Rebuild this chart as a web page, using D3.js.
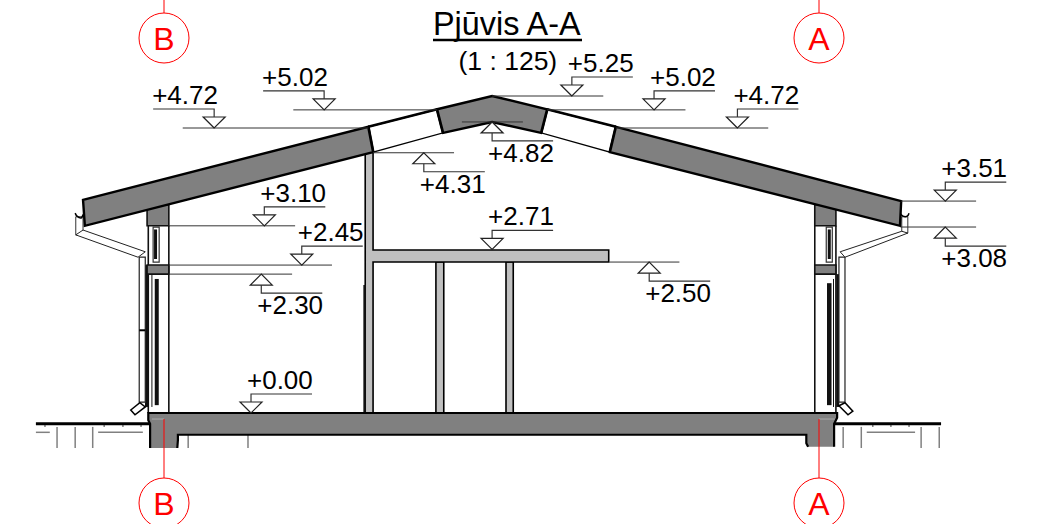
<!DOCTYPE html>
<html>
<head>
<meta charset="utf-8">
<title>Pjūvis A-A</title>
<script src="https://cdn.jsdelivr.net/npm/d3@7"></script>
<style>
  html, body { margin: 0; background: #fff; overflow: hidden; }
  text { font-family: "Liberation Sans", Arial, sans-serif; }
</style>
</head>
<body>
<div id="viz"></div>
<script>
// level marks: label, height (m), mark position (m from axis B), level line extent (m)
var levelLabels = ['+4.72', '+5.02', '+5.25', '+5.02', '+4.72', '+3.51', '+3.08', '+2.50', '+4.31', '+4.82', '+3.10', '+2.45', '+2.30', '+2.71', '+0.00'];
var levelValues = [4.72, 5.02, 5.25, 5.02, 4.72, 3.51, 3.08, 2.50, 4.31, 4.82, 3.10, 2.45, 2.30, 2.71, 0.00];
var levelMarkX = [0.83, 2.65, 6.75, 8.11, 9.49, 12.93, 12.93, 8.03, 4.30, 5.43, 1.66, 2.28, 1.61, 5.43, 1.44];
var levelFrom = [0.31, 2.14, 5.43, 6.34, 7.48, 12.20, 12.19, 7.37, 3.46, 4.93, 0.08, 0.08, 0.08, null, null];
var levelTo = [3.38, 4.52, 7.27, 8.63, 10.00, 13.44, 13.44, 8.53, 4.80, 5.94, 2.17, 2.78, 2.12, null, null];
var levelBelow = [false, false, false, false, false, false, true, true, true, true, false, false, true, false, false];
var levelLeader = ['left', 'left', 'right', 'right', 'right', 'right', 'right', 'right', 'right', 'right', 'right', 'right', 'right', 'right', 'right'];

// section geometry, [x, height] in metres
var roofLeft = [[-1.34, 3.53], [3.38, 4.74], [3.46, 4.32], [-1.31, 3.10]];
var roofMiddle = [[4.52, 5.03], [5.43, 5.25], [6.34, 5.03], [6.24, 4.64], [5.43, 4.82], [4.62, 4.64]];
var roofRight = [[7.48, 4.74], [12.20, 3.51], [12.18, 3.10], [7.38, 4.32]];
var skylights = [
  [[3.38, 4.74], [4.52, 5.03], [4.62, 4.64], [3.46, 4.32]],
  [[7.48, 4.74], [6.34, 5.03], [6.24, 4.64], [7.38, 4.32]]
];
var partition = [[3.33, 4.40], [3.46, 4.40], [3.46, 2.70], [7.36, 2.70], [7.36, 2.50], [3.46, 2.50], [3.46, 0], [3.33, 0]];
var posts = [[4.50, 4.63], [5.66, 5.78]];
var postTop = 2.50;
var wallBlocks = [[-0.28, 0.08, 3.45, 3.10], [10.77, 11.12, 3.45, 3.10], [-0.28, 0.08, 2.45, 2.30], [10.77, 11.12, 2.45, 2.30]];
var slabFill = [[-0.26, 0], [-0.26, -0.12], [-0.23, -0.18], [-0.23, -0.58], [0.22, -0.58], [0.23, -0.45], [0.23, -0.36], [10.63, -0.36], [10.63, -0.50], [10.66, -0.56], [11.09, -0.56], [11.09, -0.18], [11.14, -0.08], [11.14, 0]];
var slabOuter = [[-0.23, -0.58], [-0.23, -0.18], [-0.26, -0.12], [-0.26, 0], [11.14, 0], [11.14, -0.08], [11.09, -0.18], [11.09, -0.56]];
var slabInner = [[0.22, -0.58], [0.23, -0.45], [0.23, -0.36], [10.63, -0.36], [10.63, -0.50], [10.66, -0.56]];

// vertical frame lines: x, top, bottom, line width
var frameX = [-0.26, 0.08, -0.29, -0.20, -0.12, 10.77, 11.12, 11.01, 11.15, 11.08, -0.14, 11.01, 3.32];
var frameTop = [3.10, 3.10, 2.45, 2.30, 2.22, 3.10, 3.10, 2.15, 2.30, 2.22, 3.04, 3.04, 2.12];
var frameBottom = [0, 0, 0.10, 0.10, 0.13, 0, 0, 0.13, 0.10, 0.10, 2.55, 2.55, 0];
var frameWidth = [1.6, 1.6, 3, 1, 4, 1.6, 1.6, 4.5, 3, 1, 3, 3, 2.5];
var glazing = [[-0.18, -0.08, 3.08, 2.50], [10.96, 11.06, 3.08, 2.50]];

// rainwater goods
var pipes = [[-0.41, -0.31, 2.58, 0.18], [11.17, 11.27, 2.58, 0.18]];
var pipeBands = [[-0.41, -0.31, 1.37]];
var elbows = [
  [[-0.55, 0.05], [-0.40, 0.17], [-0.31, 0.10], [-0.48, -0.03]],
  [[11.17, 0.12], [11.27, 0.17], [11.40, 0.03], [11.32, -0.03]]
];
var gutterArms = [
  [[-1.34, 3.03], [-0.31, 2.67], [-0.43, 2.58], [-1.46, 2.95]],
  [[11.19, 2.67], [12.21, 3.01], [12.31, 2.98], [11.27, 2.58]]
];
var outlets = [[-1.46, -1.34, 3.25, 2.95], [12.21, 12.31, 3.25, 2.98]];
var gutters = [
  [[-1.47, 3.31], [-1.44, 3.26], [-1.37, 3.23], [-1.34, 3.28], [-1.31, 3.31]],
  [[12.18, 3.31], [12.23, 3.26], [12.30, 3.26], [12.33, 3.31]]
];

// ground
var groundLines = [[-2.12, -0.23], [11.09, 12.86]];
var groundPosts = [-1.77, -1.47, -1.18, 0.40, 1.39, 11.24, 11.54, 12.53, 12.83];
var groundTicks = [-1.97, -0.99, -0.68, -0.38, 11.73, 12.03, 12.33];
var groundDashes = [[-2.12, -1.89], [-1.09, -0.35], [11.63, 12.43]];

// grid axes
var axisNames = ['B', 'A'];
var axisX = [0, 10.84];

var svg = d3.select('#viz').append('svg')
  .attr('width', 1045)
  .attr('height', 524)
  .style('display', 'block');

// one scale for each direction, the drawing is 1 : 125 so both run at about 60.4 px per metre
var x = d3.scaleLinear().domain([0, 10.84]).range([164, 819]);
var y = d3.scaleLinear().domain([0, 5.25]).range([413, 96]);

var outline = d3.line().x(function (d) { return x(d[0]); }).y(function (d) { return y(d[1]); });
function closed(points) { return outline(points) + 'Z'; }
function box(b) { return closed([[b[0], b[2]], [b[1], b[2]], [b[1], b[3]], [b[0], b[3]]]); }

function vline(g, xm, top, bottom, width, colour) {
  g.append('line')
    .attr('x1', x(xm)).attr('x2', x(xm))
    .attr('y1', y(top)).attr('y2', y(bottom))
    .attr('stroke', colour).attr('stroke-width', width);
}
function hline(g, from, to, level, width, colour) {
  g.append('line')
    .attr('x1', x(from)).attr('x2', x(to))
    .attr('y1', y(level)).attr('y2', y(level))
    .attr('stroke', colour).attr('stroke-width', width);
}

// ground and hatching
var ground = svg.append('g').attr('id', 'ground');
groundPosts.forEach(function (p) { vline(ground, p, -0.23, -0.58, 1.5, '#808080'); });
groundTicks.forEach(function (p) { vline(ground, p, -0.18, -0.23, 1.5, '#808080'); });
groundDashes.forEach(function (d) { hline(ground, d[0], d[1], -0.32, 1.5, '#808080'); });
groundLines.forEach(function (d) { hline(ground, d[0], d[1], -0.18, 3, '#000'); });

// partition, ceiling slab and posts
var inside = svg.append('g').attr('id', 'inside');
inside.selectAll('.post').data(posts).enter().append('path')
  .attr('class', 'post')
  .attr('d', function (d) { return box([d[0], d[1], postTop, 0]); })
  .attr('fill', '#c0c0c0').attr('stroke', '#000').attr('stroke-width', 1.6);
inside.append('path')
  .attr('d', closed(partition))
  .attr('fill', '#c0c0c0').attr('stroke', '#000').attr('stroke-width', 1.6);

// walls
var walls = svg.append('g').attr('id', 'walls');
walls.selectAll('.glazing').data(glazing).enter().append('path')
  .attr('class', 'glazing')
  .attr('d', box)
  .attr('fill', '#fff').attr('stroke', '#333').attr('stroke-width', 1.2);
frameX.forEach(function (f, i) { vline(walls, f, frameTop[i], frameBottom[i], frameWidth[i], '#111'); });
walls.selectAll('.block').data(wallBlocks).enter().append('path')
  .attr('class', 'block')
  .attr('d', box)
  .attr('fill', '#808080').attr('stroke', '#111').attr('stroke-width', 1.6);

// gutters and downpipes
var water = svg.append('g').attr('id', 'water');
water.selectAll('.pipe').data(pipes).enter().append('path')
  .attr('class', 'pipe')
  .attr('d', box)
  .attr('fill', '#fff').attr('stroke', '#222').attr('stroke-width', 1.2);
pipeBands.forEach(function (d) { hline(water, d[0], d[1], d[2], 2, '#000'); });
water.selectAll('.outlet').data(outlets).enter().append('path')
  .attr('class', 'outlet')
  .attr('d', box)
  .attr('fill', '#fff').attr('stroke', '#333').attr('stroke-width', 1);
water.selectAll('.arm').data(gutterArms).enter().append('path')
  .attr('class', 'arm')
  .attr('d', closed)
  .attr('fill', '#fff').attr('stroke', '#222').attr('stroke-width', 1);
water.selectAll('.elbow').data(elbows).enter().append('path')
  .attr('class', 'elbow')
  .attr('d', closed)
  .attr('fill', '#fff').attr('stroke', '#000').attr('stroke-width', 1.5);
water.selectAll('.gutter').data(gutters).enter().append('path')
  .attr('class', 'gutter')
  .attr('d', d3.line().x(function (d) { return x(d[0]); }).y(function (d) { return y(d[1]); }).curve(d3.curveCatmullRom))
  .attr('fill', 'none').attr('stroke', '#000').attr('stroke-width', 1.5);

// floor slab
var slab = svg.append('g').attr('id', 'slab');
slab.append('path').attr('d', closed(slabFill)).attr('fill', '#808080');
slab.append('path').attr('d', outline(slabOuter)).attr('fill', 'none').attr('stroke', '#000').attr('stroke-width', 2.2);
slab.append('path').attr('d', outline(slabInner)).attr('fill', 'none').attr('stroke', '#000').attr('stroke-width', 2.2);
hline(slab, -0.20, 0, -0.10, 1, '#aaa');
hline(slab, 10.84, 11.10, -0.10, 1, '#aaa');

// roof
var roof = svg.append('g').attr('id', 'roof');
roof.selectAll('.skylight').data(skylights).enter().append('path')
  .attr('class', 'skylight')
  .attr('d', closed)
  .attr('fill', '#fff').attr('stroke', '#000').attr('stroke-width', 1.3);
skylights.forEach(function (s) {
  roof.append('path').attr('d', outline([s[0], s[1]])).attr('stroke', '#000').attr('stroke-width', 2.5);
  roof.append('path').attr('d', outline([s[1], s[2]])).attr('stroke', '#000').attr('stroke-width', 3);
  roof.append('path').attr('d', outline([s[3], s[0]])).attr('stroke', '#000').attr('stroke-width', 3);
});
roof.selectAll('.roof').data([roofLeft, roofMiddle, roofRight]).enter().append('path')
  .attr('class', 'roof')
  .attr('d', closed)
  .attr('fill', '#808080').attr('stroke', '#000').attr('stroke-width', 2.4)
  .attr('stroke-linejoin', 'miter');

// level marks
var markSize = 11;
var stemLength = 8;
var leaderLength = 61;
var levels = svg.append('g').attr('id', 'levels');

levelLabels.forEach(function (label, i) {
  var tipX = x(levelMarkX[i]);
  var tipY = y(levelValues[i]);
  var dir = levelBelow[i] ? 1 : -1;
  var baseY = tipY + dir * markSize;
  var stemY = baseY + dir * stemLength;
  var endX = levelLeader[i] === 'left' ? tipX - leaderLength : tipX + leaderLength;
  var textX = levelLeader[i] === 'left' ? tipX - leaderLength - 1 : tipX - 4;
  var textY = levelBelow[i] ? stemY + 21 : stemY - 5;

  if (levelFrom[i] !== null) {
    hline(levels, levelFrom[i], levelTo[i], levelValues[i], 1, '#333');
  }
  levels.append('path')
    .attr('d', 'M' + tipX + ',' + tipY + 'L' + (tipX - markSize) + ',' + baseY + 'L' + (tipX + markSize) + ',' + baseY + 'Z')
    .attr('fill', '#fff').attr('stroke', '#222').attr('stroke-width', 1.2);
  levels.append('path')
    .attr('d', 'M' + tipX + ',' + baseY + 'L' + tipX + ',' + stemY + 'L' + endX + ',' + stemY)
    .attr('fill', 'none').attr('stroke', '#333').attr('stroke-width', 1.2);
  levels.append('text')
    .attr('x', textX)
    .attr('y', textY)
    .attr('font-size', 26)
    .attr('fill', '#000')
    .text(label);
});

// grid axes with their bubbles
var axes = svg.append('g').attr('id', 'axes');
var bubbleR = 25;
axisNames.forEach(function (name, i) {
  var ax = x(axisX[i]);
  axes.append('line').attr('x1', ax).attr('x2', ax).attr('y1', 0).attr('y2', 13)
    .attr('stroke', '#f00').attr('stroke-width', 1);
  axes.append('line').attr('x1', ax).attr('x2', ax).attr('y1', y(-0.10)).attr('y2', 478)
    .attr('stroke', '#f00').attr('stroke-width', 1);
  [38, 503].forEach(function (cy) {
    axes.append('circle')
      .attr('cx', ax).attr('cy', cy).attr('r', bubbleR)
      .attr('fill', 'none').attr('stroke', '#f00').attr('stroke-width', 1);
    axes.append('text')
      .attr('x', ax).attr('y', cy + 12)
      .attr('text-anchor', 'middle')
      .attr('font-size', 32)
      .attr('fill', '#f00')
      .text(name);
  });
});

// title
svg.append('text')
  .attr('x', 433).attr('y', 35)
  .attr('font-size', 32.4)
  .attr('fill', '#000')
  .text('Pjūvis A-A');
svg.append('line')
  .attr('x1', 433).attr('x2', 582).attr('y1', 40).attr('y2', 40)
  .attr('stroke', '#000').attr('stroke-width', 2.5);
svg.append('text')
  .attr('x', 458.5).attr('y', 70)
  .attr('font-size', 26.5)
  .attr('fill', '#000')
  .text('(1 : 125)');
</script>
</body>
</html>
